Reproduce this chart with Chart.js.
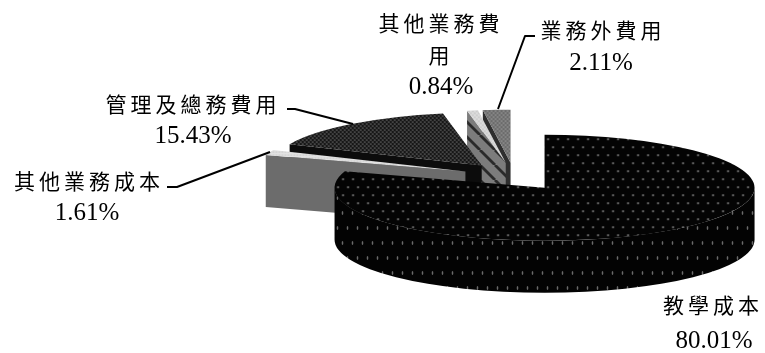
<!DOCTYPE html>
<html lang="zh-Hant">
<head>
<meta charset="utf-8">
<title>支出結構</title>
<style>
  html, body { margin: 0; padding: 0; background: #fff; }
  #wrap { position: relative; width: 765px; height: 353px; overflow: hidden; }
</style>
<script src="https://cdn.jsdelivr.net/npm/chart.js@4/dist/chart.umd.js"></script>
</head>
<body>
<div id="wrap"><canvas id="chart"></canvas></div>
<script>
const categories = ['教學成本', '其他業務成本', '管理及總務費用', '其他業務費用', '業務外費用'];
const shares = [80.01, 1.61, 15.43, 0.84, 2.11];
const labelLines = [['教學成本'], ['其他業務成本'], ['管理及總務費用'], ['其他業務費', '用'], ['業務外費用']];

// label block: centre x, y of the first name line, y of the percent line
const labelBoxes = [
  { x: 713, y: 305, pct: 341, pctX: 714 },
  { x: 89, y: 181, pct: 213, pctX: 87 },
  { x: 193, y: 104, pct: 136, pctX: 193 },
  { x: 441, y: 23, second: 55, pct: 87, pctX: 441 },
  { x: 603, y: 30, pct: 63, pctX: 601 },
];
const leaders = [
  null,
  [[167, 187], [177, 187], [270, 152]],
  [[287, 109], [295, 109], [353, 124]],
  null,
  [[535, 36], [525, 36], [498, 109]],
];

const RADIUS = 210;
const TILT = 53 / RADIUS;
const EXPLODE_X = 52;
const EXPLODE_Y = 13.9;
const DEPTH = 52;
const PAINT_ORDER = [4, 3, 2, 1, 0];

function tile(w, h, paint) {
  const c = document.createElement('canvas');
  c.width = w;
  c.height = h;
  paint(c.getContext('2d'), w, h);
  return c;
}

function dots(bg, fg, r, pts, stretch = 1) {
  return (g, w, h) => {
    g.fillStyle = bg;
    g.fillRect(0, 0, w, h);
    g.fillStyle = fg;
    pts.forEach(([x, y]) => {
      g.beginPath();
      g.ellipse(x, y, r, r * stretch, 0, 0, Math.PI * 2);
      g.fill();
    });
  };
}

const probe = document.createElement('canvas').getContext('2d');

// pattern fixed to screen pixels even when drawn under the squashed transform
function topPattern(t) {
  const p = probe.createPattern(t, 'repeat');
  p.setTransform(new DOMMatrix().scale(1, 1 / TILT));
  return p;
}

function flatPattern(t) {
  return probe.createPattern(t, 'repeat');
}

const stripes = tile(15, 15, (g, w, h) => {
  g.fillStyle = '#7c7c7c';
  g.fillRect(0, 0, w, h);
  g.strokeStyle = '#2a2a2a';
  g.lineWidth = 2.8;
  [-w, 0, w].forEach((o) => {
    g.beginPath();
    g.moveTo(o, 0);
    g.lineTo(o + w, h);
    g.stroke();
  });
});

const topFills = [
  topPattern(tile(10, 16, dots('#040404', '#8e8e8e', 1, [[2.5, 4], [7.5, 12]]))),
  topPattern(tile(3, 3, dots('#e2e2e2', '#a8a8a8', 0.5, [[1, 1]]))),
  topPattern(tile(4, 4, dots('#161616', '#6c6c6c', 0.85, [[1, 1], [3, 3]]))),
  topPattern(tile(4, 4, dots('#dcdcdc', '#a0a0a0', 0.6, [[1, 1], [3, 3]]))),
  topPattern(tile(4, 4, dots('#858585', '#4c4c4c', 0.8, [[1, 1], [3, 3]]))),
];
const wallFill = flatPattern(tile(10, 30, dots('#030303', '#6a6a6a', 0.8, [[2.5, 3], [7.5, 18]], 2.5)));
const faceFills = [null, '#6c6c6c', '#0c0c0c', flatPattern(stripes), '#2e2e2e'];

function sliceCentre(arc) {
  const mid = (arc.startAngle + arc.endAngle) / 2;
  return { x: arc.x + Math.cos(mid) * EXPLODE_X, y: arc.y + Math.sin(mid) * EXPLODE_Y };
}

function drawWall(ctx, arc, c) {
  const from = Math.max(arc.startAngle, 0);
  const to = Math.min(arc.endAngle, Math.PI);
  if (to <= from) return;
  ctx.beginPath();
  ctx.ellipse(c.x, c.y, RADIUS, RADIUS * TILT, 0, from, to);
  ctx.ellipse(c.x, c.y + DEPTH, RADIUS, RADIUS * TILT, 0, to, from, true);
  ctx.closePath();
  ctx.fillStyle = wallFill;
  ctx.fill();
}

// cut face on the start edge, only seen when that edge lies on the left half
function drawFace(ctx, arc, c, fill) {
  if (!fill || Math.cos(arc.startAngle) >= 0) return;
  const ex = c.x + Math.cos(arc.startAngle) * RADIUS;
  const ey = c.y + Math.sin(arc.startAngle) * RADIUS * TILT;
  ctx.beginPath();
  ctx.moveTo(c.x, c.y);
  ctx.lineTo(ex, ey);
  ctx.lineTo(ex, ey + DEPTH);
  ctx.lineTo(c.x, c.y + DEPTH);
  ctx.closePath();
  ctx.fillStyle = fill;
  ctx.fill();
}

const tiltedPie = {
  id: 'tiltedPie',
  beforeDatasetDraw(chart, args) {
    const { ctx } = chart;
    const arcs = args.meta.data;
    PAINT_ORDER.forEach((i) => {
      const arc = arcs[i];
      const c = sliceCentre(arc);
      drawWall(ctx, arc, c);
      drawFace(ctx, arc, c, faceFills[i]);
      ctx.save();
      ctx.translate(c.x, c.y);
      ctx.scale(1, TILT);
      ctx.translate(-arc.x, -arc.y);
      arc.draw(ctx);
      ctx.restore();
    });
    return false;
  },
  afterDraw(chart) {
    const { ctx } = chart;
    ctx.save();
    ctx.strokeStyle = '#000';
    ctx.lineWidth = 2;
    ctx.lineJoin = 'round';
    leaders.forEach((pts) => {
      if (!pts) return;
      ctx.beginPath();
      pts.forEach(([x, y], n) => (n ? ctx.lineTo(x, y) : ctx.moveTo(x, y)));
      ctx.stroke();
    });
    ctx.fillStyle = '#000';
    ctx.textAlign = 'center';
    ctx.textBaseline = 'middle';
    categories.forEach((name, i) => {
      const box = labelBoxes[i];
      ctx.font = '21px "Noto Sans CJK TC", "Liberation Serif", serif';
      ctx.letterSpacing = '4px';
      labelLines[i].forEach((line, n) => {
        ctx.fillText(line, box.x, n ? box.second : box.y);
      });
      ctx.font = '25px "Liberation Serif", serif';
      ctx.letterSpacing = '0px';
      ctx.fillText(shares[i].toFixed(2) + '%', box.pctX, box.pct);
    });
    ctx.restore();
  },
};

new Chart(document.getElementById('chart'), {
  type: 'pie',
  data: {
    labels: categories,
    datasets: [{
      data: shares,
      backgroundColor: topFills,
      borderWidth: 0,
    }],
  },
  options: {
    animation: false,
    responsive: true,
    maintainAspectRatio: false,
    radius: RADIUS,
    layout: { padding: { left: 263 } },
    events: [],
    plugins: {
      legend: { display: false },
      tooltip: { enabled: false },
    },
  },
  plugins: [tiltedPie],
});
</script>
</body>
</html>
